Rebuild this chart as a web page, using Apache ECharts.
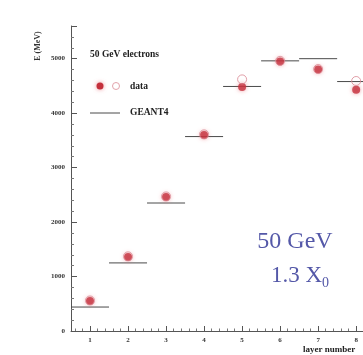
<!DOCTYPE html>
<html>
<head>
<meta charset="utf-8">
<script src="https://cdn.jsdelivr.net/npm/echarts@6/dist/echarts.min.js"></script>
<style>
  html, body { margin: 0; padding: 0; background: #ffffff; }
  #chart { width: 363px; height: 355px; }
</style>
</head>
<body>
<div id="chart"></div>
<script>
// Layer numbers
const layers = [1, 2, 3, 4, 5, 6, 7, 8];
// Measured energy per layer (MeV), filled markers
const dataFilled = [550, 1360, 2460, 3600, 4480, 4950, 4800, 4430];
// Second data set (open markers)
const dataOpen = [560, 1370, 2470, 3610, 4620, 4960, 4810, 4590];
// GEANT4 prediction per layer (MeV)
const geant4 = [440, 1250, 2350, 3570, 4490, 4960, 5000, 4580];
// Tick labels
const xTickLabels = ['1', '2', '3', '4', '5', '6', '7', '8'];
const yTickLabels = ['0', '1000', '2000', '3000', '4000', '5000'];

const SERIF = '"Liberation Serif", "DejaVu Serif", serif';
const X_MIN = 0.5, X_MAX = 8.18;

const minorX = [];
for (let i = 3; i <= 40; i++) {
  const v = i / 5;
  if (v < X_MAX && Math.abs(v - Math.round(v)) > 1e-6) minorX.push(+v.toFixed(2));
}

const chart = echarts.init(document.getElementById('chart'), null, { renderer: 'canvas' });

chart.setOption({
  animation: false,
  backgroundColor: '#ffffff',
  grid: { left: 71, top: 26, bottom: 24, right: 0 },
  xAxis: [
    {
      type: 'value', min: X_MIN, max: X_MAX,
      axisLine: { lineStyle: { color: '#555', width: 1 } },
      axisTick: { inside: true, length: 5, customValues: layers, lineStyle: { color: '#555' } },
      axisLabel: {
        customValues: layers,
        formatter: v => xTickLabels[layers.indexOf(v)],
        color: '#333', fontFamily: SERIF, fontWeight: 'bold', fontSize: 7, margin: 6
      },
      splitLine: { show: false }
    },
    {
      type: 'value', min: X_MIN, max: X_MAX, position: 'bottom',
      axisLine: { show: false },
      axisTick: { inside: true, length: 2.5, customValues: minorX, lineStyle: { color: '#777' } },
      axisLabel: { show: false },
      splitLine: { show: false }
    }
  ],
  yAxis: {
    type: 'value', min: 0, max: 5600, interval: 1000,
    axisLine: { show: true, lineStyle: { color: '#555', width: 1 } },
    axisTick: { show: true, inside: true, length: 6, lineStyle: { color: '#555' } },
    minorTick: { show: true, splitNumber: 5, length: 3, lineStyle: { color: '#777' } },
    axisLabel: {
      color: '#333', fontFamily: SERIF, fontWeight: 'bold', fontSize: 7, margin: 6,
      showMaxLabel: false,
      formatter: v => yTickLabels[Math.round(v / 1000)] || ''
    },
    splitLine: { show: false }
  },
  series: [
    {
      name: 'GEANT4',
      type: 'custom',
      xAxisIndex: 0,
      data: layers.map((l, i) => [l, geant4[i]]),
      renderItem: function (params, api) {
        const a = api.coord([api.value(0) - 0.5, api.value(1)]);
        const b = api.coord([api.value(0) + 0.5, api.value(1)]);
        return {
          type: 'line',
          shape: { x1: a[0], y1: a[1], x2: b[0], y2: b[1] },
          style: { stroke: '#4a4a4a', lineWidth: 1 }
        };
      },
      clip: true,
      z: 2
    },
    {
      name: 'data',
      type: 'scatter',
      xAxisIndex: 0,
      data: layers.map((l, i) => [l, dataFilled[i]]),
      symbol: 'circle',
      symbolSize: 8,
      itemStyle: { color: '#c4303c', shadowBlur: 4, shadowColor: 'rgba(230,90,100,0.7)' },
      z: 3
    },
    {
      name: 'data open',
      type: 'scatter',
      xAxisIndex: 0,
      data: layers.map((l, i) => [l, dataOpen[i]]),
      symbol: 'circle',
      symbolSize: 9,
      itemStyle: { color: 'rgba(0,0,0,0)', borderColor: '#d98792', borderWidth: 1 },
      z: 4
    }
  ],
  graphic: [
    // y-axis title
    {
      type: 'text', x: 38, y: 46, rotation: Math.PI / 2,
      style: {
        text: 'E (MeV)', fill: '#333', font: 'bold 8px ' + SERIF,
        align: 'center', verticalAlign: 'middle'
      }
    },
    // x-axis title
    {
      type: 'text', x: 303, y: 350,
      style: {
        text: 'layer number', fill: '#222', font: 'bold 9px ' + SERIF,
        align: 'left', verticalAlign: 'middle'
      }
    },
    // legend
    {
      type: 'text', x: 90, y: 55,
      style: { text: '50 GeV electrons', fill: '#222', font: 'bold 9.5px ' + SERIF, verticalAlign: 'middle' }
    },
    {
      type: 'circle', shape: { cx: 100, cy: 86, r: 3.5 },
      style: { fill: '#c4303c', shadowBlur: 4, shadowColor: 'rgba(230,90,100,0.7)' }
    },
    {
      type: 'circle', shape: { cx: 116, cy: 86, r: 3.5 },
      style: { fill: '#fff', stroke: '#e2a3ab', lineWidth: 1 }
    },
    {
      type: 'text', x: 130, y: 87,
      style: { text: 'data', fill: '#222', font: 'bold 9.5px ' + SERIF, verticalAlign: 'middle' }
    },
    {
      type: 'line', shape: { x1: 90, y1: 113, x2: 120, y2: 113 },
      style: { stroke: '#4a4a4a', lineWidth: 1 }
    },
    {
      type: 'text', x: 130, y: 113,
      style: { text: 'GEANT4', fill: '#222', font: 'bold 9.5px ' + SERIF, verticalAlign: 'middle' }
    },
    // annotation
    {
      type: 'text', x: 295, y: 242,
      style: {
        text: '50 GeV', fill: '#5458a8', font: '24px ' + SERIF,
        align: 'center', verticalAlign: 'middle'
      }
    },
    {
      type: 'text', x: 300, y: 276,
      style: {
        text: '{n|1.3 X}{s|0}',
        align: 'center', verticalAlign: 'middle',
        rich: {
          n: { fill: '#5458a8', font: '23px ' + SERIF },
          s: { fill: '#5458a8', font: '14px ' + SERIF, padding: [14, 0, 0, 0] }
        }
      }
    }
  ]
});
</script>
</body>
</html>
